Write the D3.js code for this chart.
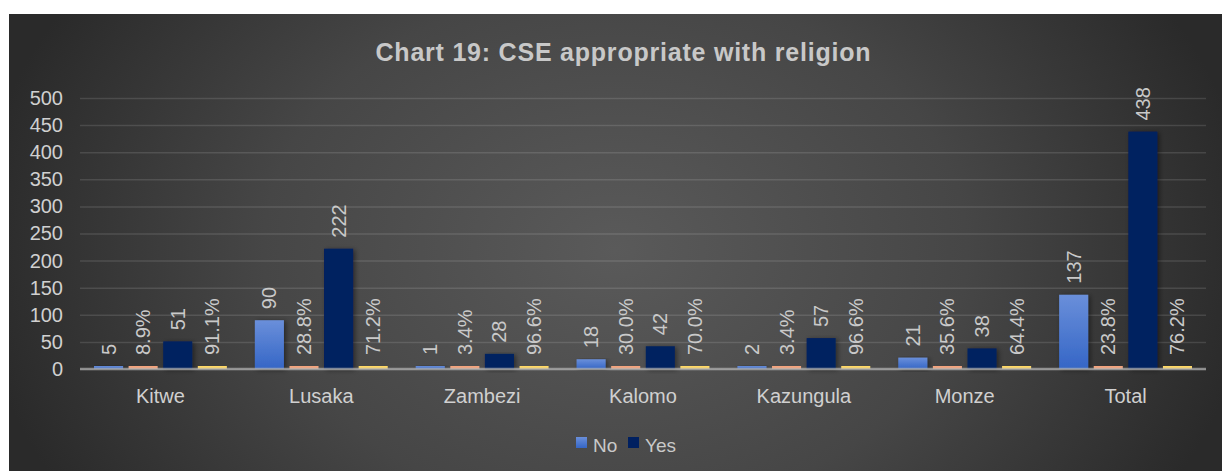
<!DOCTYPE html>
<html>
<head>
<meta charset="utf-8">
<script src="https://cdn.jsdelivr.net/npm/d3@7"></script>
<style>
  html, body { margin: 0; padding: 0; background: #ffffff; }
  svg { display: block; }
</style>
</head>
<body>
<svg id="chart" width="1222" height="471"></svg>
<script>
// Survey responses per district
const categories = ["Kitwe", "Lusaka", "Zambezi", "Kalomo", "Kazungula", "Monze", "Total"];
const noCounts   = [5, 90, 1, 18, 2, 21, 137];
const noShare    = [0.089, 0.288, 0.034, 0.300, 0.034, 0.356, 0.238];
const yesCounts  = [51, 222, 28, 42, 57, 38, 438];
const yesShare   = [0.911, 0.712, 0.966, 0.700, 0.966, 0.644, 0.762];
const yTicks     = [0, 50, 100, 150, 200, 250, 300, 350, 400, 450, 500];
const legendItems = ["No", "Yes"];

const seriesKeys = ["no", "noPct", "yes", "yesPct"];
const rows = categories.map((c, i) => ({
  category: c,
  no: noCounts[i], noPct: noShare[i], yes: yesCounts[i], yesPct: yesShare[i]
}));

const W = 1222, H = 471;
const frame = { left: 9, top: 14 };
const plot = { left: 80, right: 1206, top: 98, bottom: 369 };

const svg = d3.select("#chart");
const defs = svg.append("defs");

// Dark radial backdrop
const bg = defs.append("radialGradient").attr("id", "bgGrad")
  .attr("gradientUnits", "userSpaceOnUse")
  .attr("cx", 615).attr("cy", 250).attr("r", 640)
  .attr("gradientTransform", "translate(615,250) scale(1,0.75) translate(-615,-250)");
bg.append("stop").attr("offset", "0%").attr("stop-color", "#5a5a5a");
bg.append("stop").attr("offset", "55%").attr("stop-color", "#464646");
bg.append("stop").attr("offset", "100%").attr("stop-color", "#2a2a2a");

const blue = defs.append("linearGradient").attr("id", "noGrad")
  .attr("x1", 0).attr("y1", 0).attr("x2", 0).attr("y2", 1);
blue.append("stop").attr("offset", "0%").attr("stop-color", "#6a8fda");
blue.append("stop").attr("offset", "100%").attr("stop-color", "#3566c6");

const shadow = defs.append("filter").attr("id", "barShadow")
  .attr("x", "-30%").attr("y", "-10%").attr("width", "170%").attr("height", "130%");
shadow.append("feDropShadow").attr("dx", 2).attr("dy", 1).attr("stdDeviation", 2.5)
  .attr("flood-color", "#000").attr("flood-opacity", 0.45);

svg.append("rect").attr("x", frame.left).attr("y", frame.top)
  .attr("width", W - frame.left).attr("height", H - frame.top)
  .attr("fill", "url(#bgGrad)");

// Title
svg.append("text")
  .attr("x", 623).attr("y", 61)
  .attr("text-anchor", "middle")
  .attr("font-family", "Liberation Sans, Arial, sans-serif")
  .attr("font-weight", "bold")
  .attr("font-size", 25)
  .attr("textLength", 495).attr("lengthAdjust", "spacing")
  .attr("fill", "#c8c8c8")
  .text("Chart 19: CSE appropriate with religion");

// Scales
const y = d3.scaleLinear().domain([0, 500]).range([plot.bottom, plot.top]);
const x0 = d3.scaleBand().domain(categories).range([plot.left, plot.right])
  .paddingInner(0.174).paddingOuter(0.087);
const x1 = d3.scaleBand().domain(seriesKeys).range([0, x0.bandwidth()])
  .paddingInner(0.16).paddingOuter(0);

const fills = { no: "url(#noGrad)", noPct: "#f4a47e", yes: "#002060", yesPct: "#ffd966" };
const fmtPct = d3.format(".1%");

// Gridlines
const yAxis = d3.axisLeft(y).tickValues(yTicks).tickSize(-(plot.right - plot.left)).tickPadding(17);
const gy = svg.append("g").attr("transform", `translate(${plot.left},0)`).call(yAxis);
gy.select(".domain").remove();
gy.selectAll(".tick line")
  .attr("stroke", "#ffffff").attr("stroke-opacity", 0.12).attr("stroke-width", 1.5);
gy.selectAll(".tick text")
  .attr("font-family", "Liberation Sans, Arial, sans-serif")
  .attr("font-size", 20).attr("fill", "#d0d0d0");

// Bars
const groups = svg.append("g").selectAll("g").data(rows).join("g")
  .attr("transform", d => `translate(${x0(d.category)},0)`);

const minThickness = 3;
groups.selectAll("rect").data(d => seriesKeys.map(k => ({ key: k, value: d[k] }))).join("rect")
  .attr("x", d => x1(d.key))
  .attr("width", x1.bandwidth())
  .attr("y", d => Math.min(y(d.value), y(0) - minThickness))
  .attr("height", d => Math.max(y(0) - y(d.value), minThickness))
  .attr("fill", d => fills[d.key])
  .attr("filter", d => (d.key === "no" || d.key === "yes") ? "url(#barShadow)" : null);

// Value labels, rotated
groups.selectAll("text.val").data(d => seriesKeys.map(k => ({ key: k, value: d[k] }))).join("text")
  .attr("class", "val")
  .attr("transform", d => {
    const top = Math.min(y(d.value), y(0) - minThickness);
    const cx = x1(d.key) + x1.bandwidth() / 2;
    return `translate(${cx + 7},${top - 11}) rotate(-90)`;
  })
  .attr("font-family", "Liberation Sans, Arial, sans-serif")
  .attr("font-size", 20)
  .attr("fill", "#c9c9c9")
  .text(d => d.key.endsWith("Pct") ? fmtPct(d.value) : d.value);

// Baseline
svg.append("line")
  .attr("x1", plot.left).attr("x2", plot.right)
  .attr("y1", y(0)).attr("y2", y(0))
  .attr("stroke", "#b4b4b4").attr("stroke-opacity", 0.7).attr("stroke-width", 2.5);

// Category labels
const xAxis = d3.axisBottom(x0).tickSize(0).tickPadding(20);
const gx = svg.append("g").attr("transform", `translate(0,${y(0)})`).call(xAxis);
gx.select(".domain").remove();
gx.selectAll(".tick text")
  .attr("font-family", "Liberation Sans, Arial, sans-serif")
  .attr("font-size", 20).attr("fill", "#d0d0d0");

// Legend
const legend = svg.append("g").attr("transform", "translate(576,437)");
const legendFills = ["url(#noGrad)", "#002060"];
const legendX = [0, 52];
legendItems.forEach((name, i) => {
  const g = legend.append("g").attr("transform", `translate(${legendX[i]},0)`);
  g.append("rect").attr("width", 11).attr("height", 11).attr("fill", legendFills[i]);
  g.append("text").attr("x", 17).attr("y", 15)
    .attr("font-family", "Liberation Sans, Arial, sans-serif")
    .attr("font-size", 19).attr("fill", "#c9c9c9")
    .text(name);
});
</script>
</body>
</html>
